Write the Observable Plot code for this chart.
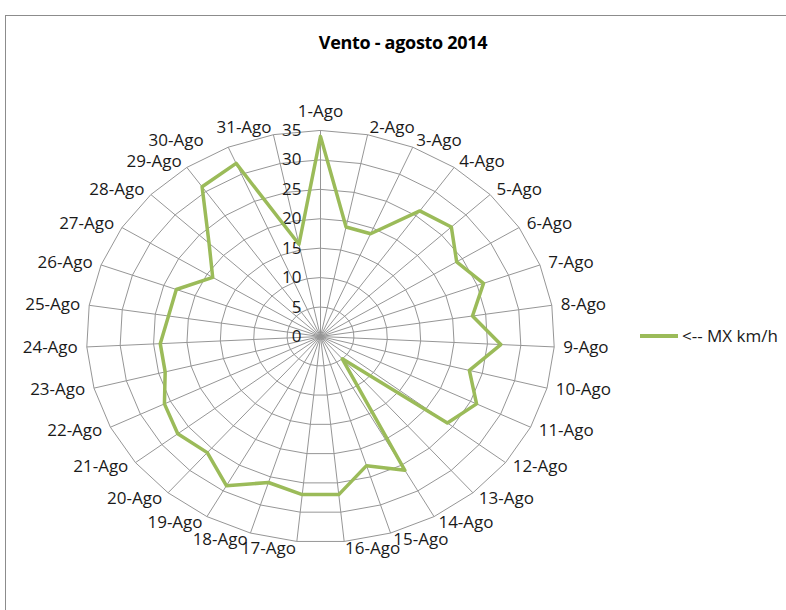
<!DOCTYPE html>
<html><head><meta charset="utf-8">
<script src="https://cdn.jsdelivr.net/npm/d3@7"></script>
<script src="https://cdn.jsdelivr.net/npm/@observablehq/plot@0.6"></script>
<style>
html,body{margin:0;padding:0;background:#fff;overflow:hidden;width:786px;height:610px;}
#chart{position:absolute;left:0;top:0;}
#frame{position:absolute;left:5px;top:15px;width:796px;height:640px;border:1px solid #8c8c8c;box-sizing:border-box;}
#title{position:absolute;left:5px;top:30px;width:796px;text-align:center;font:bold 18px "Open Sans";color:#000;line-height:24px;letter-spacing:-0.3px;}
#legend{position:absolute;left:640px;top:325px;font:17px "Open Sans";color:#1a1a1a;display:flex;align-items:center;line-height:22px;}
#legend .sw{display:inline-block;width:38px;height:3.5px;background:#9bbb59;margin-right:4px;}
</style></head>
<body>
<div id="chart"></div>
<div id="frame"></div>
<div id="title">Vento - agosto 2014</div>
<div id="legend"><span class="sw"></span><span id="legtext"></span></div>
<script>
// ---- data ----
const days = ["1-Ago","2-Ago","3-Ago","4-Ago","5-Ago","6-Ago","7-Ago","8-Ago","9-Ago","10-Ago",
  "11-Ago","12-Ago","13-Ago","14-Ago","15-Ago","16-Ago","17-Ago","18-Ago","19-Ago","20-Ago",
  "21-Ago","22-Ago","23-Ago","24-Ago","25-Ago","26-Ago","27-Ago","28-Ago","29-Ago","30-Ago","31-Ago"];
const mxKmh = [34,19,19,26,27,24,26,23,27,23,26,24,5,26,23,27,27,26,29,26,27,26,24,24,23,23,19,23,31,32,16];
const radialTicks = [0,5,10,15,20,25,30,35];
const seriesName = "<-- MX km/h";

// ---- layout ----
const W = 786, H = 610;
const cx = 320, cy = 336, rx = 234, ry = 206, rMax = 35;
const ux = rx / rMax, uy = ry / rMax; // px per unit
const n = days.length;
const ang = i => i * 2 * Math.PI / n;
const shiftedLabel = "30-Ago"; // moved left to avoid overlap, as in the reference

document.getElementById("legtext").textContent = seriesName;

const ringPts = [];
for (const r of radialTicks.filter(t => t > 0)) {
  for (let i = 0; i < n; i++) ringPts.push({r, x: r * Math.sin(ang(i)), y: r * Math.cos(ang(i))});
}
const spokes = days.map((d, i) => ({x2: rMax * Math.sin(ang(i)), y2: rMax * Math.cos(ang(i))}));
const pts = mxKmh.map((v, i) => ({x: v * Math.sin(ang(i)), y: v * Math.cos(ang(i))}));
const labels = days.map((d, i) => {
  const s = Math.sin(ang(i)), c = Math.cos(ang(i));
  return {d, s, x: (rMax + 9 / ux) * s, y: (rMax + 7 / uy) * c};
});
const font = "Open Sans";
const txt = "#1a1a1a";
const fs = 17;

const chart = Plot.plot({
  width: W, height: H,
  marginLeft: 0, marginRight: 0, marginTop: 0, marginBottom: 0,
  style: {background: "transparent", fontFamily: font, fontSize: fs + "px"},
  x: {domain: [-cx / ux, (W - cx) / ux], range: [0, W], axis: null},
  y: {domain: [-(H - cy) / uy, cy / uy], range: [H, 0], axis: null},
  marks: [
    Plot.line(ringPts, {x: "x", y: "y", z: "r", stroke: "#969696", strokeWidth: 1, curve: "linear-closed"}),
    Plot.link(spokes, {x1: () => 0, y1: () => 0, x2: "x2", y2: "y2", stroke: "#969696", strokeWidth: 1}),
    Plot.text(radialTicks, {x: () => 0, y: d => d, text: d => String(d), textAnchor: "end", dx: -19, fill: txt, fontSize: fs}),
    Plot.line(pts, {x: "x", y: "y", stroke: "#9bbb59", strokeWidth: 3.5, curve: "linear-closed", strokeLinejoin: "round"}),
    Plot.text(labels.filter(l => Math.abs(l.s) < 0.05), {x: "x", y: () => rMax, text: "d", dy: -19, textAnchor: "middle", fill: txt, fontSize: fs}),
    Plot.text(labels.filter(l => l.s >= 0.05), {x: "x", y: "y", text: "d", textAnchor: "start", fill: txt, fontSize: fs}),
    Plot.text(labels.filter(l => l.s <= -0.05 && l.d !== shiftedLabel), {x: "x", y: "y", text: "d", textAnchor: "end", fill: txt, fontSize: fs}),
    Plot.text(labels.filter(l => l.d === shiftedLabel), {x: "x", y: "y", text: "d", textAnchor: "end", dx: -21, fill: txt, fontSize: fs})
  ]
});
document.getElementById("chart").appendChild(chart);
</script>
</body></html>
